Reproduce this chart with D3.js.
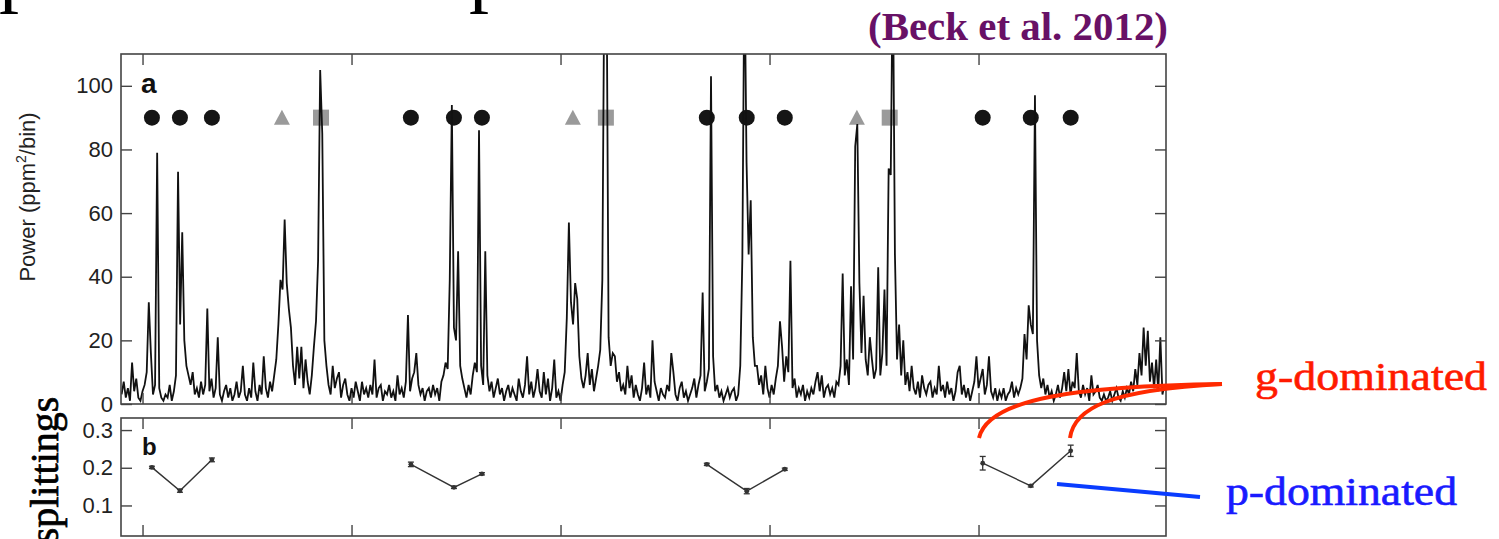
<!DOCTYPE html>
<html><head><meta charset="utf-8">
<script src="https://cdn.jsdelivr.net/npm/d3@7"></script>
<style>html,body{margin:0;padding:0;background:#fff;} svg{display:block;}</style>
</head><body><svg id="c" width="1499" height="539"></svg>
<script>
// ---- data ----
const freqStart = 169.0;   // muHz, first bin of the spectrum
const freqStep = 0.1;      // muHz per bin
const power = [
3,7,2,5,1,13,4,8,2,1,4,6,10,32,16,3,6,79,5,2,
1,3,2,6,1,4,9,73,25,54,20,12,9,6,10,3,5,2,7,3,
6,30,4,8,2,5,21,3,1,4,6,2,5,1,3,7,2,4,12,3,
1,5,2,13,4,1,6,3,15,5,2,7,4,9,14,25,39,36,58,38,
30,24,12,6,18,8,18,5,14,7,3,9,18,26,45,105,85,20,12,6,
3,12,5,8,10,2,6,8,3,1,5,2,7,4,1,7,3,5,2,6,
3,14,2,5,6,1,4,3,6,2,4,1,9,3,5,2,7,28,4,8,
10,16,6,3,5,1,4,5,2,6,3,5,1,7,9,13,11,39,94,24,
20,48,12,8,5,2,6,3,9,13,10,86,12,6,48,9,4,7,2,5,
8,3,5,1,4,6,2,5,3,1,8,4,2,6,15,3,7,2,5,11,
4,2,10,3,8,1,5,14,2,4,1,6,10,27,57,32,25,38,33,15,
8,5,9,16,6,11,4,8,12,17,39,140,140,21,12,16,15,7,10,4,
6,3,12,5,9,2,6,3,1,5,13,3,6,2,20,7,4,1,5,3,
2,6,4,16,10,3,1,5,7,2,4,1,3,5,8,2,6,9,35,4,
7,11,103,15,4,6,2,4,1,3,5,2,4,5,1,3,12,46,140,76,
47,64,21,12,12,6,9,3,12,5,2,6,3,8,12,26,18,7,15,10,
45,5,8,2,5,3,6,1,4,2,5,3,7,10,4,9,2,5,6,3,
5,2,7,6,12,41,9,14,6,37,14,81,88,38,16,34,14,9,21,14,
8,11,43,9,16,36,12,74,72,140,47,14,25,9,20,6,10,4,12,5,
3,7,2,9,5,3,6,7,2,5,3,12,4,6,2,7,3,5,1,4,
10,12,3,6,2,5,1,4,7,15,5,8,11,3,6,15,4,2,5,1,
4,2,5,1,3,4,7,2,5,3,5,8,22,14,31,25,22,97,20,9,
5,8,3,6,2,4,1,3,6,2,5,10,4,11,3,7,5,16,4,2,
6,3,5,1,9,3,4,6,2,1,3,1,2,4,1,3,5,2,1,4,
2,5,3,7,4,11,6,16,9,24,12,23,7,13,5,14,4,21,3,6,
6
];
const l1Freq = [170.45,171.79,173.32, 182.84,184.90,186.24, 197.00,198.91,200.73, 210.20,212.50,214.41];
const l2Freq = [176.67,190.59,204.18];
const l0Freq = [178.54,192.17,205.75];
const markerPower = 90;
const xTicks = [170,180,190,200,210];
const yTicksA = [0,20,40,60,80,100];
const yTicksB = [0.1,0.2,0.3];
const splitGroup = [0,0,0, 1,1,1, 2,2,2, 3,3,3];
const splitVal = [0.201,0.139,0.221, 0.209,0.148,0.184, 0.209,0.138,0.196, 0.212,0.152,0.245];
const splitErr = [0.003,0.004,0.005, 0.006,0.003,0.003, 0.003,0.007,0.003, 0.018,0.003,0.015];

// ---- layout ----
const svg = d3.select('#c');
const X0 = 121, X1 = 1166;
const x = d3.scaleLinear().domain([168.97, 218.97]).range([X0, X1]);
const yA = d3.scaleLinear().domain([0, 110]).range([404, 54]);
const yB = d3.scaleLinear().domain([0.019, 0.332]).range([536, 418]);
const sans = "'Liberation Sans', Arial, Helvetica, sans-serif";
const serif = "'Liberation Serif', 'Times New Roman', serif";

svg.append('defs').append('clipPath').attr('id','clipA')
  .append('rect').attr('x',X0).attr('y',yA(110)).attr('width',X1-X0).attr('height',yA(0)-yA(110));

function styleAxis(g){
  g.select('.domain').remove();
  g.selectAll('line').attr('stroke','#444').attr('stroke-width',1.4);
  g.selectAll('text').attr('font-family',sans).attr('font-size',22).attr('fill','#222');
}

// markers (panel a)
const gm = svg.append('g');
gm.selectAll('circle.l1').data(l1Freq).join('circle')
  .attr('cx',d=>x(d)).attr('cy',yA(markerPower)).attr('r',8).attr('fill','#151515');
gm.selectAll('path.l2').data(l2Freq).join('path')
  .attr('d',d=>{const cx=x(d), cy=yA(markerPower); return `M${cx-8},${cy+7}L${cx+8},${cy+7}L${cx},${cy-8}Z`;})
  .attr('fill','#9a9a9a');
gm.selectAll('rect.l0').data(l0Freq).join('rect')
  .attr('x',d=>x(d)-8).attr('y',yA(markerPower)-8).attr('width',16).attr('height',16).attr('fill','#9a9a9a');

// spectrum
const line = d3.line().x((d,i)=>x(freqStart+i*freqStep)).y(d=>yA(d));
svg.append('path').datum(power).attr('clip-path','url(#clipA)')
  .attr('d',line).attr('fill','none').attr('stroke','#111').attr('stroke-width',1.8).attr('stroke-linejoin','miter');

// axes panel a
svg.append('g').attr('transform',`translate(${X0},0)`)
  .call(d3.axisLeft(yA).tickValues(yTicksA).tickSizeInner(-11).tickSizeOuter(0).tickPadding(8)).call(styleAxis);
svg.append('g').attr('transform',`translate(${X1},0)`)
  .call(d3.axisRight(yA).tickValues(yTicksA).tickSizeInner(-11).tickSizeOuter(0).tickFormat('')).call(styleAxis);
svg.append('g').attr('transform',`translate(0,${yA(110)})`)
  .call(d3.axisTop(x).tickValues(xTicks).tickSizeInner(-11).tickSizeOuter(0).tickFormat('')).call(styleAxis);
svg.append('g').attr('transform',`translate(0,${yA(0)})`)
  .call(d3.axisBottom(x).tickValues(xTicks).tickSizeInner(-11).tickSizeOuter(0).tickFormat('')).call(styleAxis);
svg.append('rect').attr('x',X0).attr('y',yA(110)).attr('width',X1-X0).attr('height',yA(0)-yA(110))
  .attr('fill','none').attr('stroke','#444').attr('stroke-width',1.6);

// panel b
svg.append('g').attr('transform',`translate(${X0},0)`)
  .call(d3.axisLeft(yB).tickValues(yTicksB).tickFormat(d3.format('.1f')).tickSizeInner(-11).tickSizeOuter(0).tickPadding(8)).call(styleAxis);
svg.append('g').attr('transform',`translate(${X1},0)`)
  .call(d3.axisRight(yB).tickValues(yTicksB).tickSizeInner(-11).tickSizeOuter(0).tickFormat('')).call(styleAxis);
svg.append('g').attr('transform',`translate(0,${yB(0.332)})`)
  .call(d3.axisTop(x).tickValues(xTicks).tickSizeInner(-11).tickSizeOuter(0).tickFormat('')).call(styleAxis);
svg.append('g').attr('transform',`translate(0,${yB(0.019)})`)
  .call(d3.axisBottom(x).tickValues(xTicks).tickSizeInner(-11).tickSizeOuter(0).tickFormat('')).call(styleAxis);
svg.append('rect').attr('x',X0).attr('y',yB(0.332)).attr('width',X1-X0).attr('height',yB(0.019)-yB(0.332))
  .attr('fill','none').attr('stroke','#444').attr('stroke-width',1.6);

const pts = l1Freq.map((f,i)=>({f, v:splitVal[i], e:splitErr[i], g:splitGroup[i]}));
const groups = d3.groups(pts, d=>d.g);
const gb = svg.append('g');
groups.forEach(([k, arr])=>{
  gb.append('path').datum(arr).attr('d', d3.line().x(d=>x(d.f)).y(d=>yB(d.v)))
    .attr('fill','none').attr('stroke','#333').attr('stroke-width',1.4);
});
pts.forEach(d=>{
  const cx = x(d.f);
  gb.append('line').attr('x1',cx).attr('x2',cx).attr('y1',yB(d.v-d.e)).attr('y2',yB(d.v+d.e)).attr('stroke','#333').attr('stroke-width',1.3);
  [d.v-d.e, d.v+d.e].forEach(v=>gb.append('line').attr('x1',cx-3).attr('x2',cx+3).attr('y1',yB(v)).attr('y2',yB(v)).attr('stroke','#333').attr('stroke-width',1.3));
  gb.append('circle').attr('cx',cx).attr('cy',yB(d.v)).attr('r',2.4).attr('fill','#333');
});

// panel letters
svg.append('text').attr('x',141).attr('y',93).text('a').attr('font-family',sans).attr('font-weight','bold').attr('font-size',28).attr('fill','#111');
svg.append('text').attr('x',142).attr('y',455).text('b').attr('font-family',sans).attr('font-weight','bold').attr('font-size',24).attr('fill','#111');

// axis titles
const yt = svg.append('text').attr('transform','translate(35,197) rotate(-90)').attr('text-anchor','middle')
  .attr('font-family',sans).attr('font-size',22).attr('fill','#222');
yt.append('tspan').text('Power (ppm');
yt.append('tspan').text('2').attr('font-size',14).attr('dy',-9);
yt.append('tspan').text('/bin)').attr('dy',9);

svg.append('text').attr('transform','translate(58,470) rotate(-90)').attr('text-anchor','middle')
  .attr('font-family',serif).attr('font-size',40).attr('fill','#000')
  .attr('stroke','#000').attr('stroke-width',0.7).text('splittings');

// title / annotations
svg.append('text').attr('x',1168).attr('y',40).attr('text-anchor','end')
  .attr('font-family',serif).attr('font-weight','bold').attr('font-size',39).attr('fill','#681166')
  .attr('textLength',300).attr('lengthAdjust','spacingAndGlyphs').text('(Beck et al. 2012)');

svg.append('text').attr('x',-1).attr('y',-3).attr('font-family',serif).attr('font-size',80).attr('fill','#000').text('p');
svg.append('text').attr('x',469).attr('y',-3).attr('font-family',serif).attr('font-size',80).attr('fill','#000').text('p');

svg.append('path').attr('d','M979,438 C988,398 1080,386 1222,384').attr('fill','none').attr('stroke','#ff2a00').attr('stroke-width',4);
svg.append('path').attr('d','M1070,438 C1074,408 1110,390 1222,384').attr('fill','none').attr('stroke','#ff2a00').attr('stroke-width',4);
svg.append('line').attr('x1',1057).attr('y1',484).attr('x2',1200).attr('y2',497).attr('stroke','#0a3cff').attr('stroke-width',4);

svg.append('text').attr('x',1255).attr('y',390).attr('font-family',serif).attr('font-size',40).attr('fill','#ff1a00')
  .attr('stroke','#ff1a00').attr('stroke-width',0.6)
  .attr('textLength',232).attr('lengthAdjust','spacingAndGlyphs').text('g-dominated');
svg.append('text').attr('x',1226).attr('y',505).attr('font-family',serif).attr('font-size',40).attr('fill','#1a1aff')
  .attr('stroke','#1a1aff').attr('stroke-width',0.6)
  .attr('textLength',231).attr('lengthAdjust','spacingAndGlyphs').text('p-dominated');
</script></body></html>
